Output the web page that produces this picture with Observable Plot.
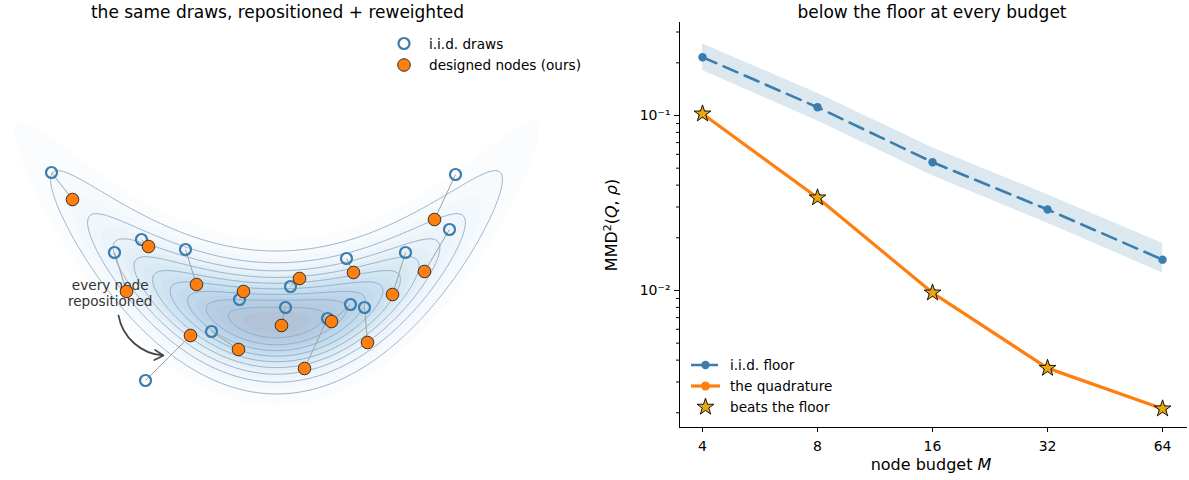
<!DOCTYPE html>
<html><head><meta charset="utf-8">
<script src="https://cdn.jsdelivr.net/npm/d3@7"></script>
<script src="https://cdn.jsdelivr.net/npm/@observablehq/plot@0.6"></script>
<style>
body{margin:0;background:#fff;font-family:"DejaVu Sans",sans-serif;}
#fig{position:relative;width:1189px;height:480px;overflow:hidden;background:#fff;}
#fig svg{position:absolute;top:0;}
</style></head><body><div id="fig"></div>
<script>
// ---------- left panel: i.i.d. draws and designed nodes (density coordinates) ----------
const iidX  = [-2.25, -1.62, -1.35, -0.91, -0.37, 0.14, 0.09, -0.65, -1.31, 0.70, 1.29, 1.79, 1.73, 0.74, 0.88, 0.51];
const iidY  = [ 1.50,  0.70,  0.83,  0.73,  0.23, 0.36, 0.15, -0.09, -0.58, 0.64, 0.70, 1.48, 0.93, 0.18, 0.15, 0.04];
const nodeX = [-2.04, -1.50, -1.28, -0.80, -0.33, 0.23, 0.05, -0.38, -0.86, 0.77, 1.16, 1.58, 1.48, 0.55, 0.91, 0.28];
const nodeY = [ 1.23,  0.31,  0.76,  0.38,  0.31, 0.44, -0.03, -0.27, -0.13, 0.50, 0.28, 1.03, 0.51, 0.01, -0.20, -0.46];
// banana target density parameters
const bananaA = 1.053, bananaB = 0.333, bananaC = 0.28;
const fillLevels = [0.045, 0.1, 0.15, 0.2, 0.25, 0.3, 0.35, 0.4, 0.45, 0.5, 0.55, 0.6, 0.65, 0.7, 0.75, 0.8, 0.85, 0.9, 0.95];
const lineLevels = [0.1, 0.2, 0.3, 0.4, 0.5, 0.6, 0.7, 0.8, 0.9];
const annotText = ["every node\nrepositioned"];
const annotPos = [-1.663, 0.295];
const arrowFrom = [-1.58, 0.07], arrowTo = [-1.13, -0.33];
const leftX = [-2.76, 2.84], leftY = [-1.58, 3.22];

// ---------- right panel ----------
const budgets    = [4, 8, 16, 32, 64];
const iidFloor   = [0.2154, 0.1115, 0.0541, 0.0290, 0.0150];
const iidLow     = [0.1807, 0.0930, 0.0452, 0.0242, 0.0126];
const iidHigh    = [0.2569, 0.1340, 0.0655, 0.0352, 0.0186];
const quadrature = [0.1023, 0.0339, 0.0097, 0.0036, 0.00211];
const xTickLabels = ["4", "8", "16", "32", "64"];
const yMajor = [0.01, 0.1];
const yMajorLabels = ["10\u207B\u00B2", "10\u207B\u00B9"];
const yMinor = [0.002,0.003,0.004,0.005,0.006,0.007,0.008,0.009,0.02,0.03,0.04,0.05,0.06,0.07,0.08,0.09,0.2,0.3];
const rightX = [4 * Math.pow(2, -0.2), 64 * Math.pow(2, 0.217)];
const rightY = [0.001648, 0.340];

const BLUE = "#3b7dad", ORANGE = "#ff7f0e", GOLD = "#e6a817";
const fig = document.getElementById("fig");

// ----- left -----
const density = (x, y) => Math.exp(-x * x / (2 * bananaA * bananaA) - Math.pow(y - bananaC * x * x, 2) / (2 * bananaB * bananaB));
const fade = (c) => { const k = d3.rgb(c), a = 0.31; return d3.rgb(255 + (k.r - 255) * a, 255 + (k.g - 255) * a, 255 + (k.b - 255) * a).formatHex(); };
const pairs = iidX.map((x, i) => ({ix: x, iy: iidY[i], nx: nodeX[i], ny: nodeY[i]}));
const grid = {x1: leftX[0], x2: leftX[1], y1: leftY[0], y2: leftY[1]};

const left = Plot.plot({
  width: 560, height: 480, margin: 0,
  x: {domain: leftX, axis: null},
  y: {domain: leftY, axis: null},
  color: {type: "linear", domain: [0, 1], interpolate: (t) => fade(d3.interpolateBlues(t))},
  style: {fontFamily: "DejaVu Sans", background: "transparent", overflow: "visible"},
  marks: [
    Plot.contour({...grid, fill: density, thresholds: fillLevels, stroke: "none"}),
    Plot.contour({...grid, value: density, thresholds: lineLevels, fill: "none", stroke: "#8ea8c4", strokeWidth: 0.9}),
    Plot.link(pairs, {x1: "ix", y1: "iy", x2: "nx", y2: "ny", stroke: "#a0a0a0", strokeWidth: 1}),
    Plot.dot(pairs, {x: "ix", y: "iy", r: 5.5, fill: "none", stroke: BLUE, strokeWidth: 2.2}),
    Plot.text(annotText, {x: () => annotPos[0], y: () => annotPos[1], text: d => d, fontSize: 13.6, fill: "#333", lineHeight: 1.12}),
    Plot.dot(pairs, {x: "nx", y: "ny", r: 6.3, fill: ORANGE, stroke: "#222", strokeWidth: 0.9}),
    Plot.arrow([0], {x1: () => arrowFrom[0], y1: () => arrowFrom[1], x2: () => arrowTo[0], y2: () => arrowTo[1], bend: -38, stroke: "#444", strokeWidth: 1.7, headLength: 9})
  ]
});
left.style.left = "0px";
fig.appendChild(left);

// ----- right -----
const rows = budgets.map((m, i) => ({m, iid: iidFloor[i], lo: iidLow[i], hi: iidHigh[i], quad: quadrature[i]}));
const right = Plot.plot({
  width: 589, height: 480, marginLeft: 79, marginRight: 2, marginTop: 22, marginBottom: 53,
  x: {type: "log", base: 2, domain: rightX},
  y: {type: "log", domain: rightY},
  style: {fontFamily: "DejaVu Sans", background: "transparent", overflow: "visible", color: "#000"},
  marks: [
    Plot.areaY(rows, {x: "m", y1: "lo", y2: "hi", fill: BLUE, fillOpacity: 0.18}),
    Plot.lineY(rows, {x: "m", y: "iid", stroke: BLUE, strokeWidth: 2.6, strokeDasharray: "15,8"}),
    Plot.dot(rows, {x: "m", y: "iid", r: 4.2, fill: BLUE}),
    Plot.lineY(rows, {x: "m", y: "quad", stroke: ORANGE, strokeWidth: 3.2}),
    Plot.dot(rows, {x: "m", y: "quad", r: 4.5, fill: ORANGE}),
    Plot.dot(rows, {x: "m", y: "quad", symbol: "star", r: 5.3, fill: GOLD, stroke: "#000", strokeWidth: 0.9}),
    Plot.axisX({ticks: budgets, tickFormat: () => "", tickSize: 5, label: null}),
    Plot.axisY({ticks: yMinor, tickFormat: () => "", tickSize: 3, label: null}),
    Plot.axisY({ticks: yMajor, tickFormat: () => "", tickSize: 5, label: null}),
    Plot.text(budgets, {x: (d) => d, y: () => rightY[0], text: (d, i) => xTickLabels[i], dy: 19, fontSize: 14, fill: "#000"}),
    Plot.text(yMajor, {x: () => rightX[0], y: (d) => d, text: (d, i) => yMajorLabels[i], dx: -9, textAnchor: "end", fontSize: 14, fill: "#000"}),
    Plot.ruleX([rightX[0]], {stroke: "#000", strokeWidth: 1}),
    Plot.ruleY([rightY[0]], {stroke: "#000", strokeWidth: 1})
  ]
});
right.style.left = "600px";
fig.appendChild(right);

// axis labels with math styling
const rs = d3.select(right);
const yl = rs.append("text").attr("transform", "translate(17,225) rotate(-90)").attr("text-anchor", "middle")
  .attr("font-size", 16).attr("font-family", "DejaVu Sans").attr("fill", "#000");
yl.append("tspan").text("MMD");
yl.append("tspan").attr("dy", -6).attr("font-size", 11).text("2");
yl.append("tspan").attr("dy", 6).text("(");
yl.append("tspan").attr("font-style", "italic").text("Q");
yl.append("tspan").text(", ");
yl.append("tspan").attr("font-style", "italic").text("\u03C1");
yl.append("tspan").text(")");
const xl = rs.append("text").attr("x", 331).attr("y", 470).attr("text-anchor", "middle")
  .attr("font-size", 16).attr("font-family", "DejaVu Sans").attr("fill", "#000");
xl.append("tspan").text("node budget ");
xl.append("tspan").attr("font-style", "italic").text("M");

// overlay: titles and legends
const ov = d3.select(fig).append("svg").attr("width", 1189).attr("height", 480)
  .style("left", "0px").style("pointer-events", "none").attr("font-family", "DejaVu Sans");
ov.append("text").attr("x", 277.5).attr("y", 18).attr("text-anchor", "middle").attr("font-size", 17).text("the same draws, repositioned + reweighted");
ov.append("text").attr("x", 932).attr("y", 18).attr("text-anchor", "middle").attr("font-size", 17).text("below the floor at every budget");

// left legend
ov.append("circle").attr("cx", 404).attr("cy", 43.5).attr("r", 5.5).attr("fill", "none").attr("stroke", BLUE).attr("stroke-width", 2.2);
ov.append("text").attr("x", 429).attr("y", 48.5).attr("font-size", 13.6).text("i.i.d. draws");
ov.append("circle").attr("cx", 404).attr("cy", 65).attr("r", 6.3).attr("fill", ORANGE).attr("stroke", "#222").attr("stroke-width", 0.9);
ov.append("text").attr("x", 429).attr("y", 70).attr("font-size", 13.6).text("designed nodes (ours)");

// right legend
ov.append("line").attr("x1", 691).attr("x2", 720).attr("y1", 365).attr("y2", 365).attr("stroke", BLUE).attr("stroke-width", 2.6).attr("stroke-dasharray", "11,5");
ov.append("circle").attr("cx", 705.5).attr("cy", 365).attr("r", 4.2).attr("fill", BLUE);
ov.append("text").attr("x", 730).attr("y", 370).attr("font-size", 13.6).text("i.i.d. floor");
ov.append("line").attr("x1", 691).attr("x2", 720).attr("y1", 386).attr("y2", 386).attr("stroke", ORANGE).attr("stroke-width", 3.2);
ov.append("circle").attr("cx", 705.5).attr("cy", 386).attr("r", 4.5).attr("fill", ORANGE);
ov.append("text").attr("x", 730).attr("y", 391).attr("font-size", 13.6).text("the quadrature");
ov.append("path").attr("transform", "translate(705.5,407)").attr("d", d3.symbol(d3.symbolStar, Math.PI * 5.3 * 5.3)())
  .attr("fill", GOLD).attr("stroke", "#000").attr("stroke-width", 0.9);
ov.append("text").attr("x", 730).attr("y", 412).attr("font-size", 13.6).text("beats the floor");
</script></body></html>
